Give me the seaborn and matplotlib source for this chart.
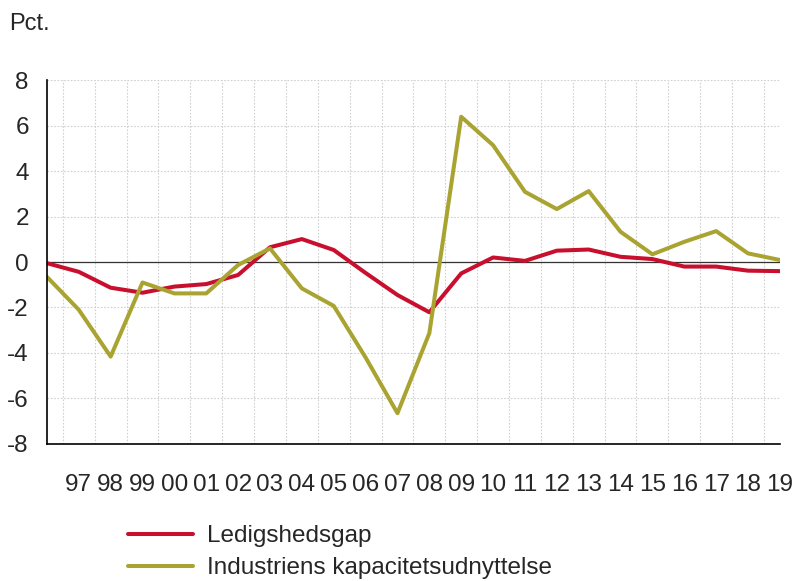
import matplotlib.pyplot as plt
import seaborn as sns
import pandas as pd
from matplotlib.ticker import MultipleLocator, FixedLocator

years = list(range(1996, 2020))
ledighedsgap = [-0.05, -0.43, -1.13, -1.35, -1.08, -0.97, -0.57, 0.65, 1.01, 0.53,
                -0.48, -1.45, -2.21, -0.5, 0.2, 0.05, 0.5, 0.55, 0.23, 0.13,
                -0.2, -0.2, -0.38, -0.4]
kapacitet = [-0.65, -2.1, -4.16, -0.9, -1.38, -1.38, -0.13, 0.6, -1.16, -1.93,
             -4.2, -6.65, -3.13, 6.39, 5.14, 3.09, 2.33, 3.12, 1.33, 0.34,
             0.89, 1.36, 0.38, 0.09]
series_names = ['Ledigshedsgap', 'Industriens kapacitetsudnyttelse']
year_labels = ['97', '98', '99', '00', '01', '02', '03', '04', '05', '06', '07', '08',
               '09', '10', '11', '12', '13', '14', '15', '16', '17', '18', '19']
colors = ['#C8102E', '#A9A432']

df = pd.DataFrame({
    'year': years * 2,
    'value': ledighedsgap + kapacitet,
    'serie': [series_names[0]] * len(years) + [series_names[1]] * len(years),
})

sns.set_style('white')
plt.rcParams['font.family'] = ['Liberation Sans', 'DejaVu Sans']
plt.rcParams['font.size'] = 17.5
plt.rcParams['axes.unicode_minus'] = False

fig = plt.figure(figsize=(7.95, 5.81), dpi=100)
ax = fig.add_axes([0.059, 0.236, 0.922, 0.626])

sns.lineplot(data=df, x='year', y='value', hue='serie', palette=colors,
             linewidth=2.9, ax=ax, legend=False)

ax.set_xlim(1996, 2019)
ax.set_ylim(-8, 8)
ax.yaxis.set_major_locator(MultipleLocator(2))

# tick marks between years, labels in the middle of each year
ax.xaxis.set_major_locator(FixedLocator([y + 0.5 for y in years[:-1]]))
ax.xaxis.set_minor_locator(FixedLocator(years[1:]))
ax.set_xticklabels([], minor=False)
ax.set_xticklabels(year_labels, minor=True)
ax.tick_params(axis='x', which='major', length=8, width=1, direction='out', color='black')
ax.tick_params(axis='x', which='minor', length=0, pad=22, labelsize=17.5)
ax.tick_params(axis='y', length=4, width=1, direction='out', color='black', labelsize=17.5, pad=9)

ax.grid(True, which='major', color='#d0d0d0', linestyle=(0, (1.5, 1.5)), linewidth=0.8)
ax.axhline(0, color='#333333', linewidth=0.9, zorder=1)

for s in ['top', 'right']:
    ax.spines[s].set_visible(False)
for s in ['left', 'bottom']:
    ax.spines[s].set_color('black')
    ax.spines[s].set_linewidth(1.2)

ax.set_xlabel('')
ax.set_ylabel('')

fig.text(0.012, 0.977, 'Pct.', ha='left', va='top', fontsize=17)

handles = [plt.Line2D([], [], color=c, linewidth=2.9) for c in colors]
fig.legend(handles, series_names, loc='upper left', bbox_to_anchor=(0.161, 0.096),
           frameon=False, fontsize=17.5, handlelength=2.67, handletextpad=0.58,
           labelspacing=0.42, borderpad=0, borderaxespad=0)

fig.savefig('out.png', dpi=100)
